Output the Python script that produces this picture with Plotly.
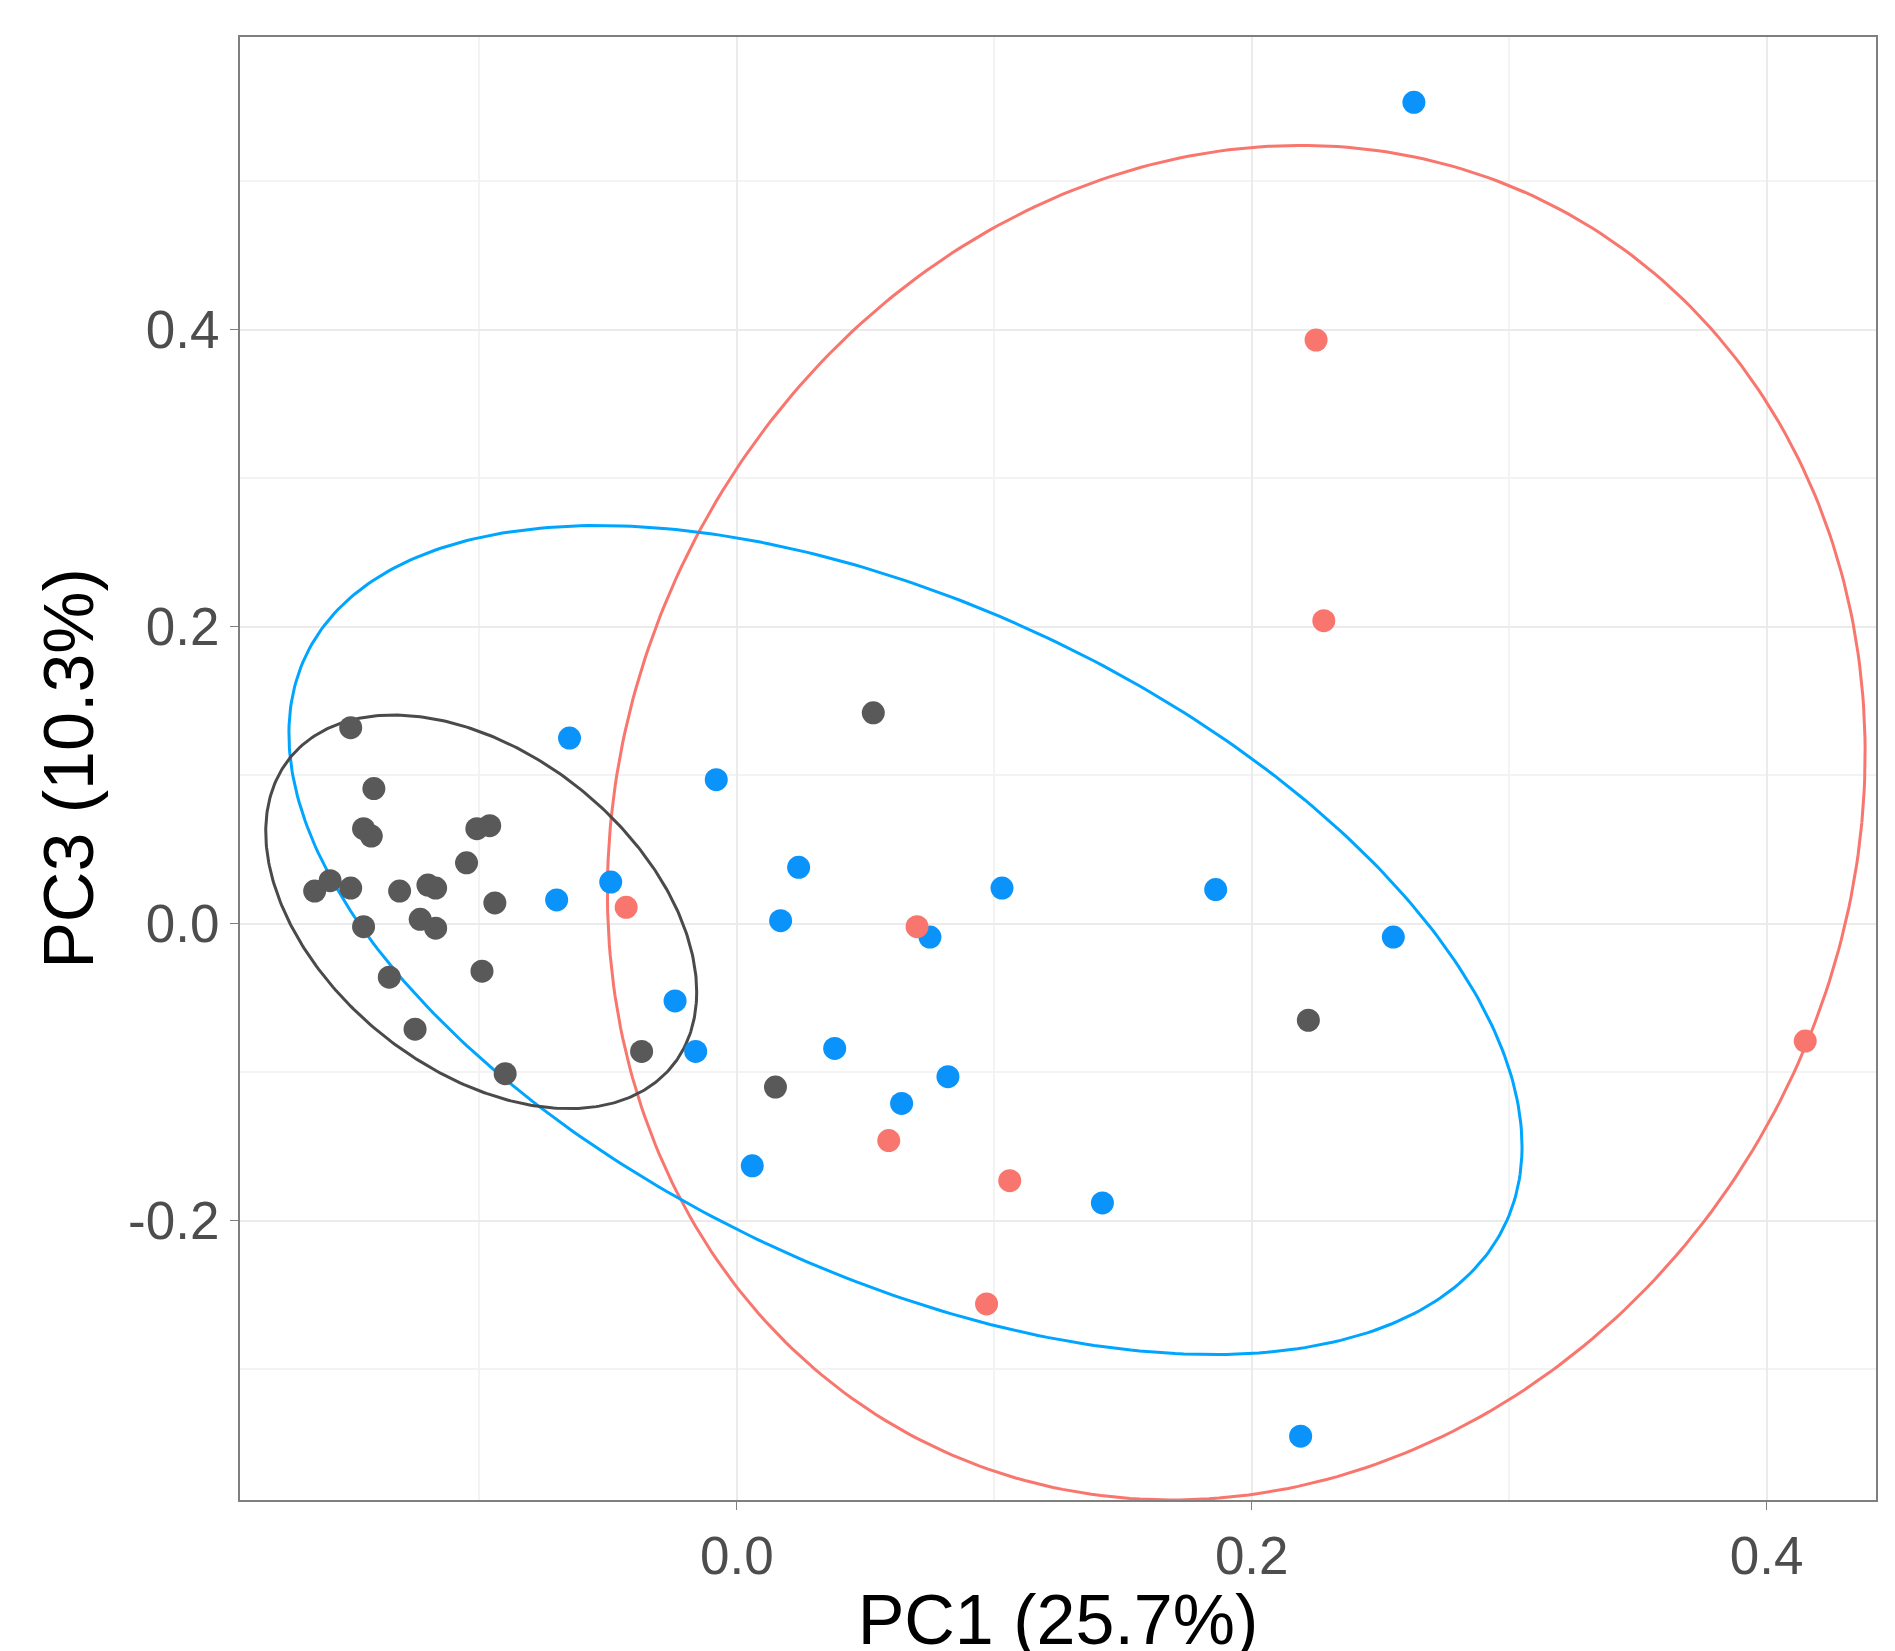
import numpy as np
import plotly.graph_objects as go

grey_x = [-0.164,-0.158,-0.150,-0.150,-0.141,-0.145,-0.142,-0.145,-0.135,-0.131,-0.125,-0.123,-0.120,-0.117,-0.117,-0.105,-0.101,-0.096,-0.099,-0.094,-0.090,-0.037,0.015,0.053,0.222]
grey_y = [0.022,0.029,0.132,0.024,0.091,0.064,0.059,-0.002,-0.036,0.022,-0.071,0.003,0.026,0.024,-0.003,0.041,0.064,0.066,-0.032,0.014,-0.101,-0.086,-0.110,0.142,-0.065]
blue_x = [0.263,-0.065,-0.008,-0.070,-0.049,0.024,0.017,0.103,0.186,0.075,0.255,-0.024,-0.016,0.038,0.082,0.064,0.006,0.142,0.219]
blue_y = [0.553,0.125,0.097,0.016,0.028,0.038,0.002,0.024,0.023,-0.009,-0.009,-0.052,-0.086,-0.084,-0.103,-0.121,-0.163,-0.188,-0.345]
red_x = [0.225,0.228,-0.043,0.070,0.059,0.106,0.097,0.415]
red_y = [0.393,0.204,0.011,-0.002,-0.146,-0.173,-0.256,-0.079]

# ellipse params: cx, cy, xcos, xsin, ycos, ysin
grey_ell = [-0.0993, 0.008, 0.0837, 0.0, -0.054, 0.121]
blue_ell = [0.0655, -0.011, 0.2395, 0.0, -0.139, 0.242]
red_ell = [0.194, 0.068, 0.243, 0.025, 0.0, 0.456]

x_ticks = [0.0, 0.2, 0.4]
x_labels = ["0.0", "0.2", "0.4"]
y_ticks = [-0.2, 0.0, 0.2, 0.4]
y_labels = ["-0.2", "0.0", "0.2", "0.4"]

C_GREY, C_BLUE, C_RED = "#595959", "#0A93FA", "#F8766D"
L_GREY, L_BLUE, L_RED = "#4a4a4a", "#00A5FF", "#F8766D"

fig = go.Figure()
t = np.linspace(0, 2*np.pi, 400)
for p, col in [(red_ell, L_RED), (blue_ell, L_BLUE), (grey_ell, L_GREY)]:
    cx, cy, a, b, c, d = p
    fig.add_trace(go.Scatter(x=cx + a*np.cos(t) + b*np.sin(t), y=cy + c*np.cos(t) + d*np.sin(t),
                             mode="lines", line=dict(color=col, width=3), hoverinfo="skip"))
for xs, ys, col in [(grey_x, grey_y, C_GREY), (blue_x, blue_y, C_BLUE), (red_x, red_y, C_RED)]:
    fig.add_trace(go.Scatter(x=xs, y=ys, mode="markers", marker=dict(color=col, size=23, line=dict(width=0))))

ax = dict(showline=True, linecolor="#7f7f7f", linewidth=2, mirror=True, gridcolor="#ebebeb", gridwidth=2,
          zeroline=False, ticks="outside", ticklen=8, tickcolor="#7f7f7f",
          tickfont=dict(size=53, color="#4d4d4d", family="Liberation Sans"),
          minor=dict(dtick=0.1, showgrid=True, gridcolor="#f3f3f3", gridwidth=1.5, ticks=""))
fig.update_xaxes(**ax, range=[-0.193, 0.4425], tickvals=x_ticks, ticktext=x_labels,
                 title=dict(text="PC1 (25.7%)", font=dict(size=70, color="black", family="Liberation Sans"), standoff=8))
fig.update_yaxes(**ax, range=[-0.388, 0.597], tickvals=y_ticks, ticktext=y_labels,
                 title=dict(text="PC3 (10.3%)", font=dict(size=70, color="black", family="Liberation Sans"), standoff=12))
fig.update_xaxes(minor_tick0=0.1, minor_dtick=0.2)
fig.update_yaxes(minor_tick0=0.1, minor_dtick=0.2)
fig.update_layout(width=1895, height=1651, showlegend=False, plot_bgcolor="white", paper_bgcolor="white",
                  margin=dict(l=232, r=27, t=29, b=159))
fig.write_html("out.html")
